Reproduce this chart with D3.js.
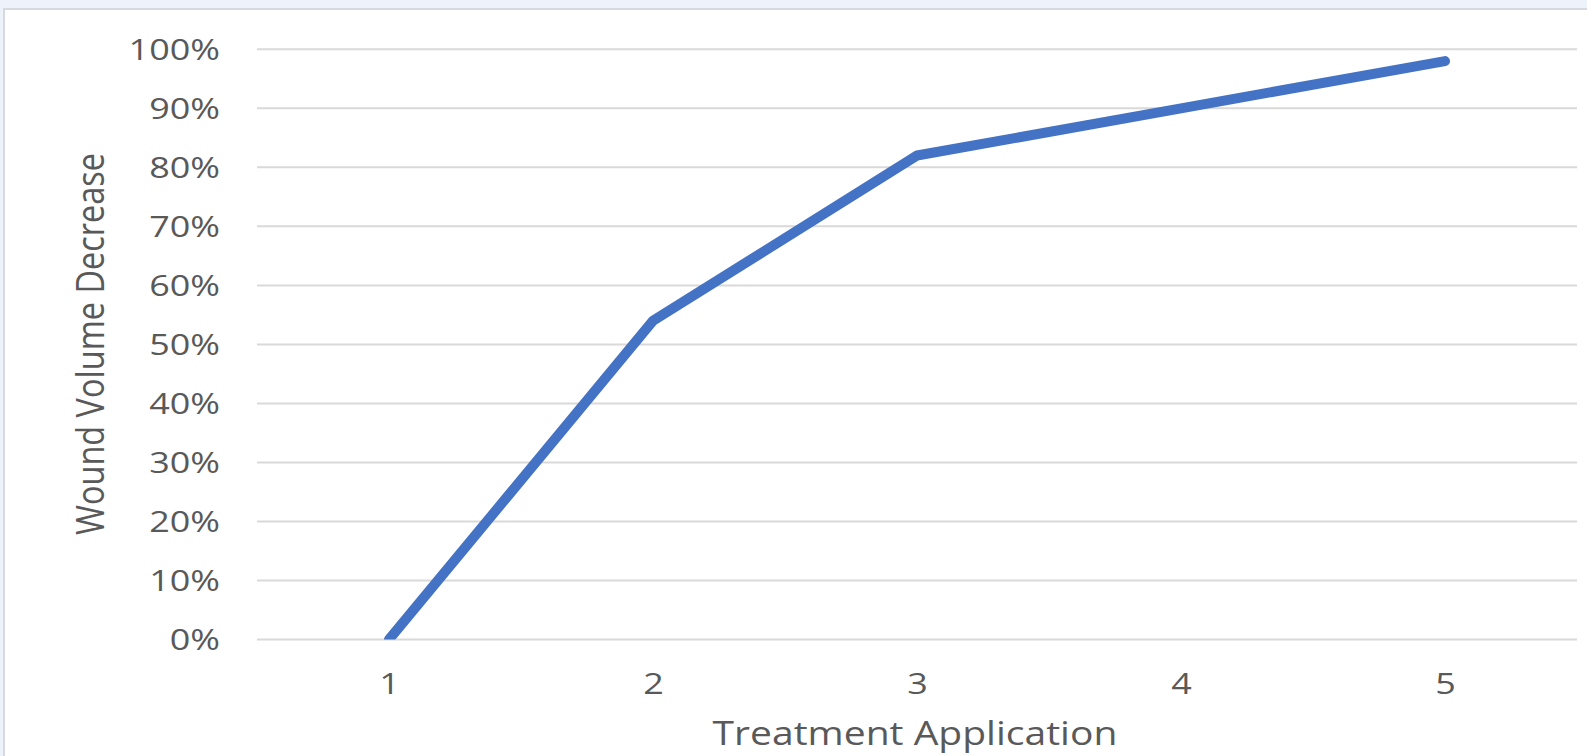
<!DOCTYPE html>
<html>
<head>
<meta charset="utf-8">
<script src="https://cdn.jsdelivr.net/npm/d3@7"></script>
<style>
  html, body { margin: 0; padding: 0; background: #eef3fb; }
  svg { display: block; }
  text { font-family: "Open Sans", sans-serif; fill: #595959; }
</style>
</head>
<body>
<svg id="chart" width="1587" height="756"></svg>
<script>
// Treatment application number and the wound volume decrease after it
const applications = [1, 2, 3, 4, 5];
const volumeDecrease = [0.00, 0.54, 0.82, 0.90, 0.98];
const yTicks = [0, 0.1, 0.2, 0.3, 0.4, 0.5, 0.6, 0.7, 0.8, 0.9, 1.0];

const W = 1587, H = 756;
const plot = { left: 257, right: 1577, top: 49.3, bottom: 639.5 };
const stretch = 1.24; // horizontal widening of the label glyphs

const svg = d3.select("#chart");

// plot area clip, the series is cut at the axis floor
svg.append("defs").append("clipPath").attr("id", "plot-clip")
  .append("rect")
  .attr("x", plot.left).attr("y", plot.top - 20)
  .attr("width", plot.right - plot.left).attr("height", plot.bottom - plot.top + 20);

// chart frame
svg.append("rect")
  .attr("x", 4).attr("y", 9)
  .attr("width", W + 10).attr("height", H + 10)
  .attr("fill", "#ffffff")
  .attr("stroke", "#d6d9de").attr("stroke-width", 2);

const x = d3.scalePoint()
  .domain(applications)
  .range([plot.left, plot.right])
  .padding(0.5);

const y = d3.scaleLinear()
  .domain([0, 1])
  .range([plot.bottom, plot.top]);

// horizontal gridlines
svg.append("g")
  .selectAll("line")
  .data(yTicks)
  .join("line")
  .attr("x1", plot.left).attr("x2", plot.right)
  .attr("y1", d => y(d)).attr("y2", d => y(d))
  .attr("stroke", "#d9d9d9").attr("stroke-width", 2);

// y axis labels
const yAxis = d3.axisLeft(y).tickValues(yTicks).tickFormat(d3.format(".0%")).tickSize(0).tickPadding(0);
const gy = svg.append("g").call(yAxis);
gy.select(".domain").remove();
gy.selectAll(".tick text")
  .attr("font-size", 29)
  .attr("font-family", "'Open Sans', sans-serif")
  .attr("fill", "#595959")
  .attr("text-anchor", "end")
  .attr("x", 0).attr("dy", "0.36em")
  .attr("transform", `translate(220,0) scale(${stretch},1)`);
gy.selectAll(".tick")
  .attr("transform", d => `translate(0,${y(d)})`);

// x axis labels
const xAxis = d3.axisBottom(x).tickSize(0).tickPadding(0);
const gx = svg.append("g").attr("transform", `translate(0,${plot.bottom})`).call(xAxis);
gx.select(".domain").remove();
gx.selectAll(".tick text")
  .attr("font-size", 29)
  .attr("font-family", "'Open Sans', sans-serif")
  .attr("fill", "#595959")
  .attr("y", 0).attr("dy", "0.36em")
  .attr("transform", `translate(0,44) scale(${stretch},1)`);

// the series line
const line = d3.line()
  .x((d, i) => x(applications[i]))
  .y(d => y(d));

svg.append("path")
  .datum(volumeDecrease)
  .attr("d", line)
  .attr("clip-path", "url(#plot-clip)")
  .attr("fill", "none")
  .attr("stroke", "#4472c4")
  .attr("stroke-width", 10)
  .attr("stroke-linejoin", "round")
  .attr("stroke-linecap", "round");

// axis titles
svg.append("text")
  .attr("transform", `translate(${(plot.left + plot.right) / 2 - 2},745) scale(1.22,1)`)
  .attr("text-anchor", "middle")
  .attr("font-size", 32)
  .text("Treatment Application");

svg.append("text")
  .attr("transform", `translate(104,344) scale(1.18,1) rotate(-90)`)
  .attr("text-anchor", "middle")
  .attr("font-size", 32.5)
  .text("Wound Volume Decrease");
</script>
</body>
</html>
